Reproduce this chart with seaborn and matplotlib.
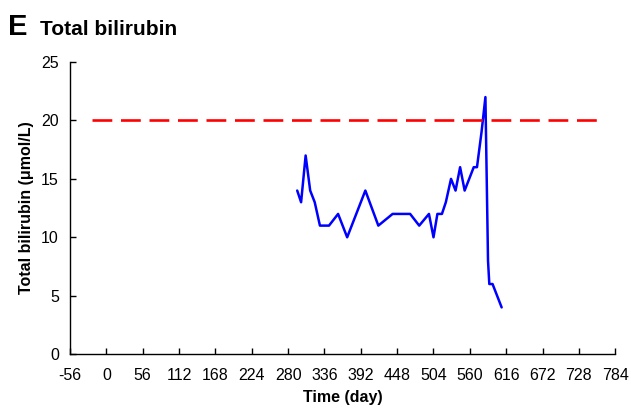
import pandas as pd
import matplotlib
matplotlib.use("Agg")
import matplotlib.pyplot as plt
import seaborn as sns

# Dados
dias = [294, 300, 307, 314, 321, 329, 343, 357, 371, 399, 419, 441, 468, 482,
        497, 504, 510, 517, 523, 531, 538, 545, 552, 566, 571, 578, 584,
        588, 590, 595, 609]
bilirrubina = [14, 13, 17, 14, 13, 11, 11, 12, 10, 14, 11, 12, 12, 11,
               12, 10, 12, 12, 13, 15, 14, 16, 14, 16, 16, 19, 22,
               8, 6, 6, 4]

limite_x = [-22, 762]
limite_y = [20, 20]

x_ticks = list(range(-56, 785, 56))
y_ticks = [0, 5, 10, 15, 20, 25]

sns.set_style("white")
plt.rcParams['font.family'] = ['Liberation Sans', 'DejaVu Sans']
plt.rcParams['axes.unicode_minus'] = False
plt.rcParams['text.color'] = 'black'
plt.rcParams['axes.labelcolor'] = 'black'

fig = plt.figure(figsize=(6.31, 4.08), dpi=100)
ax = fig.add_axes([0.111, 0.132, 0.864, 0.716])

df = pd.DataFrame({"dia": dias, "valor": bilirrubina})
sns.lineplot(data=df, x="dia", y="valor", color="#0000ff", linewidth=1.8,
             sort=False, ax=ax)
sns.lineplot(x=limite_x, y=limite_y, color="#ff0000", linewidth=1.9,
             dashes=False, ax=ax).lines[-1].set_dashes([7.5, 3.3])

ax.set_xlim(-56, 784)
ax.set_ylim(0, 25)
ax.set_xticks(x_ticks)
ax.set_yticks(y_ticks)
ax.tick_params(direction="in", length=4, width=1, labelsize=11.5, colors="black",
               left=True, bottom=True)
ax.tick_params(axis="x", pad=10)
ax.tick_params(axis="y", pad=8)
for s in ["top", "right"]:
    ax.spines[s].set_visible(False)
for s in ["left", "bottom"]:
    ax.spines[s].set_color("black")
    ax.spines[s].set_linewidth(1)

ax.set_xlabel("Time (day)", fontsize=11.5, fontweight="bold", labelpad=5)
ax.set_ylabel("Total bilirubin (μmol/L)", fontsize=11.5, fontweight="bold", labelpad=5)

fig.text(0.013, 0.914, "E", fontsize=21, fontweight="bold")
fig.text(0.063, 0.914, "Total bilirubin", fontsize=15, fontweight="bold")

fig.savefig("out.png", dpi=100)
